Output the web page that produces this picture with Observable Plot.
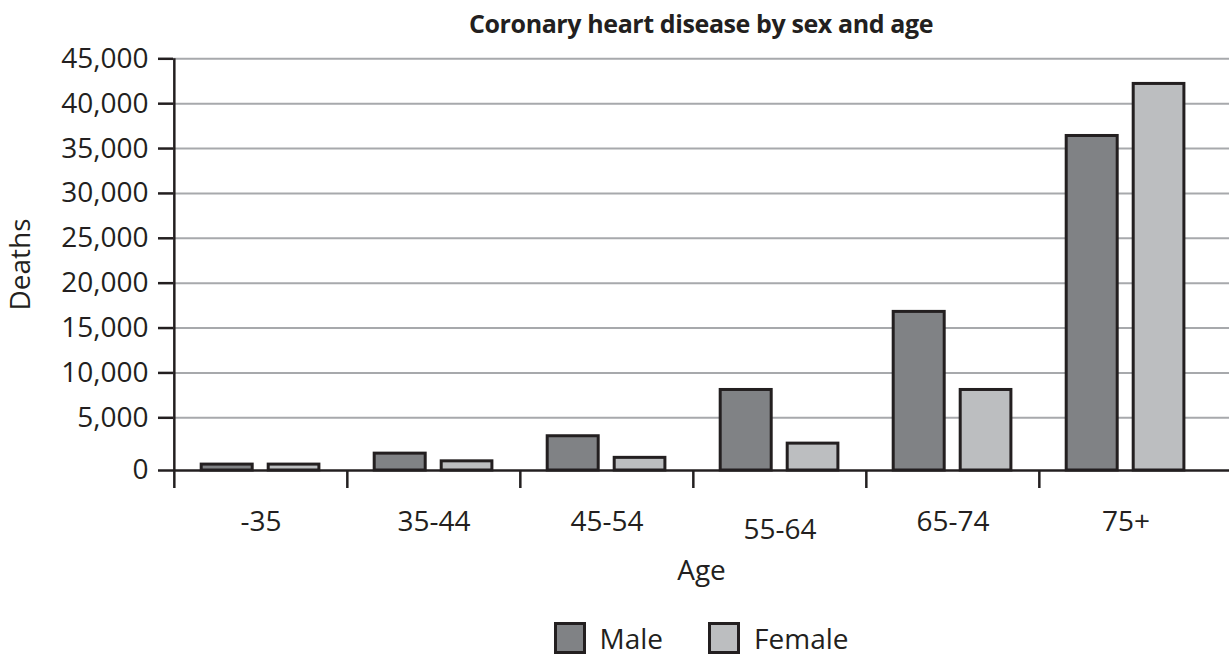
<!DOCTYPE html>
<html>
<head>
<meta charset="utf-8">
<script src="https://cdn.jsdelivr.net/npm/d3@7"></script>
<script src="https://cdn.jsdelivr.net/npm/@observablehq/plot@0.6"></script>
<style>
  html, body { margin: 0; padding: 0; background: #fff; }
  body { width: 1229px; height: 658px; overflow: hidden; font-family: "Open Sans", sans-serif; color: #231f20; }
  #title { height: 44px; line-height: 46px; padding-left: 173px; width: 1056px; text-align: center;
           font-weight: 700; font-size: 25px; letter-spacing: -0.4px; }
  #chart { height: 560px; }
  #legend { height: 40px; padding-top: 14px; padding-left: 173px; width: 1056px; display: flex;
            justify-content: center; align-items: center; font-size: 28px; }
  .item { display: flex; align-items: center; }
  .sw { width: 32px; height: 32px; box-sizing: border-box; border: 3px solid #231f20; margin-right: 14px; }
  .item + .item { margin-left: 45px; }
</style>
</head>
<body>
<div id="title">Coronary heart disease by sex and age</div>
<div id="chart"></div>
<div id="legend"></div>
<script>
const ages = ["-35", "35-44", "45-54", "55-64", "65-74", "75+"];
const male = [560, 1600, 3250, 8100, 16800, 36400];
const female = [560, 870, 1200, 2550, 8100, 42200];
const yTicks = [0, 5000, 10000, 15000, 20000, 25000, 30000, 35000, 40000, 45000];
const seriesNames = ["Male", "Female"];
const seriesColors = ["#808285", "#bcbec0"];

const rows = [];
ages.forEach((a, i) => {
  rows.push({age: a, sex: "Male", deaths: male[i]});
  rows.push({age: a, sex: "Female", deaths: female[i]});
});

const ink = "#231f20";
const step = (1213 - 173) / ages.length;

const chart = Plot.plot({
  width: 1229,
  height: 560,
  marginLeft: 173,
  marginRight: 0,
  marginTop: 14,
  marginBottom: 134,
  style: {fontFamily: "Open Sans", fontSize: "28px", color: ink, background: "transparent", overflow: "visible"},
  x: {type: "band", domain: ages, range: [173, 1213], padding: 0, label: null},
  y: {type: "linear", domain: [0, 5000, 45000], range: [426, 373.3, 14.3], label: null},
  marks: [
    Plot.gridY(yTicks.slice(1), {stroke: "#a7a9ac", strokeOpacity: 1, strokeWidth: 2}),
    Plot.barY(rows.filter(d => d.sex === "Male"), {x: "age", y: "deaths", fill: seriesColors[0], stroke: ink, strokeWidth: 3, insetLeft: 27.2, insetRight: 94.8}),
    Plot.barY(rows.filter(d => d.sex === "Female"), {x: "age", y: "deaths", fill: seriesColors[1], stroke: ink, strokeWidth: 3, insetLeft: 94.2, insetRight: 28.1}),
    Plot.ruleY([0], {stroke: ink, strokeWidth: 2.5}),
    Plot.ruleX([ages[0]], {x: d => d, dx: -step / 2, y1: 0, y2: 45000, stroke: ink, strokeWidth: 2.5}),
    Plot.axisY({ticks: yTicks, tickSize: 15, tickPadding: 10, tickFormat: d3.format(","), stroke: ink, strokeWidth: 2.5, fill: ink,
                label: "Deaths", labelAnchor: "center", labelOffset: 163, labelArrow: "none"}),
    Plot.axisX({ticks: ages, tickSize: 18, dx: -step / 2, stroke: ink, strokeWidth: 2.5, fill: "none", label: null}),
    Plot.axisX({ticks: ages.filter(a => a !== "55-64"), tickSize: 0, tickPadding: 41, fill: ink, label: "Age", labelAnchor: "center", labelOffset: 109, labelArrow: "none"}),
    Plot.axisX({ticks: ["55-64"], tickSize: 0, tickPadding: 49, fill: ink, label: null})
  ]
});
document.getElementById("chart").appendChild(chart);

const legend = document.getElementById("legend");
seriesNames.forEach((name, i) => {
  const item = document.createElement("div");
  item.className = "item";
  const sw = document.createElement("div");
  sw.className = "sw";
  sw.style.background = seriesColors[i];
  const t = document.createElement("span");
  t.textContent = name;
  item.appendChild(sw);
  item.appendChild(t);
  legend.appendChild(item);
});
</script>
</body>
</html>
